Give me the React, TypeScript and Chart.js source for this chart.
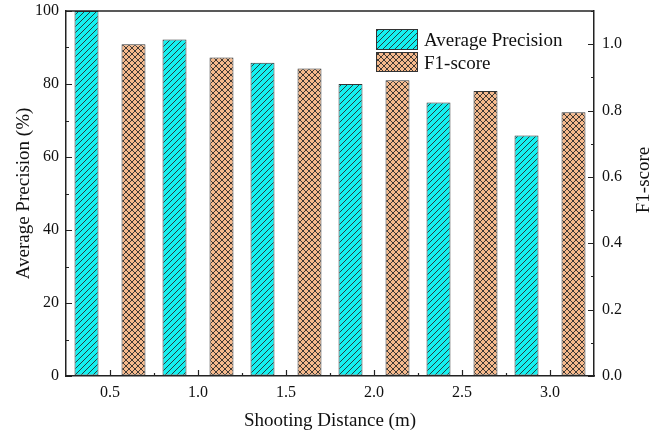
import React, { useEffect, useRef } from 'react';
import { Chart, registerables } from 'chart.js';

Chart.register(...registerables);

const distances = ['0.5', '1.0', '1.5', '2.0', '2.5', '3.0'];
const averagePrecision = [100, 92.2, 85.8, 80.0, 74.9, 65.9];
const f1Score = [1.0, 0.96, 0.927, 0.891, 0.859, 0.795];
const apTicks = [0, 20, 40, 60, 80, 100];
const f1Ticks = [0, 0.2, 0.4, 0.6, 0.8, 1.0];
const seriesNames = ['Average Precision', 'F1-score'];
const xTitle = 'Shooting Distance (m)';
const yTitle = 'Average Precision (%)';
const y1Title = 'F1-score';

const FONT = '"Liberation Serif", "Times New Roman", serif';
const AXIS = '#222222';
const CYAN = '#14F0F0';
const PEACH = '#F5B98C';

function makePattern(bg: string, cross: boolean): CanvasPattern | string {
  const s = 6;
  const c = document.createElement('canvas');
  c.width = s;
  c.height = s;
  const g = c.getContext('2d');
  if (!g) return bg;
  g.fillStyle = bg;
  g.fillRect(0, 0, s, s);
  g.strokeStyle = '#2a2a2a';
  g.lineWidth = 0.9;
  g.beginPath();
  for (const o of [-s, 0, s]) {
    g.moveTo(o, s);
    g.lineTo(o + s, 0);
  }
  if (cross) {
    for (const o of [-s, 0, s]) {
      g.moveTo(o, 0);
      g.lineTo(o + s, s);
    }
  }
  g.stroke();
  return g.createPattern(c, 'repeat') || bg;
}

export default function App() {
  const ref = useRef<HTMLCanvasElement | null>(null);

  useEffect(() => {
    document.body.style.margin = '0';
    const canvas = ref.current;
    if (!canvas) return;
    const apFill = makePattern(CYAN, false);
    const f1Fill = makePattern(PEACH, true);

    const decorPlugin = {
      id: 'decor',
      afterDraw(chart: any) {
        const { ctx, chartArea: a, scales } = chart;
        const x = scales.x;
        const y = scales.y;
        const y1 = scales.y1;
        ctx.save();
        // top frame line
        ctx.strokeStyle = AXIS;
        ctx.lineWidth = 1.5;
        ctx.beginPath();
        ctx.moveTo(a.left, a.top);
        ctx.lineTo(a.right, a.top);
        ctx.stroke();

        ctx.lineWidth = 1.2;
        const MAJ = 6;
        const MIN = 3;
        ctx.beginPath();
        // left axis ticks (inward)
        apTicks.forEach((v, i) => {
          const py = Math.round(y.getPixelForValue(v)) + 0.5;
          ctx.moveTo(a.left, py);
          ctx.lineTo(a.left + MAJ, py);
          if (i < apTicks.length - 1) {
            const pm = Math.round(y.getPixelForValue((v + apTicks[i + 1]) / 2)) + 0.5;
            ctx.moveTo(a.left, pm);
            ctx.lineTo(a.left + MIN, pm);
          }
        });
        // right axis ticks (inward)
        f1Ticks.forEach((v, i) => {
          const py = Math.round(y1.getPixelForValue(v)) + 0.5;
          ctx.moveTo(a.right, py);
          ctx.lineTo(a.right - MAJ, py);
          const next = i < f1Ticks.length - 1 ? f1Ticks[i + 1] : v + (v - f1Ticks[i - 1]);
          const pm = Math.round(y1.getPixelForValue((v + next) / 2)) + 0.5;
          ctx.moveTo(a.right, pm);
          ctx.lineTo(a.right - MIN, pm);
        });
        // bottom axis ticks (inward)
        distances.forEach((_, i) => {
          const px = Math.round(x.getPixelForValue(i)) + 0.5;
          ctx.moveTo(px, a.bottom);
          ctx.lineTo(px, a.bottom - MAJ);
          if (i < distances.length - 1) {
            const pm = Math.round(x.getPixelForValue(i + 0.5)) + 0.5;
            ctx.moveTo(pm, a.bottom);
            ctx.lineTo(pm, a.bottom - MIN);
          }
        });
        ctx.stroke();

        // right axis title, reading bottom-to-top
        ctx.fillStyle = '#111';
        ctx.font = `19px ${FONT}`;
        ctx.textAlign = 'center';
        ctx.textBaseline = 'middle';
        ctx.save();
        ctx.translate(644, 180);
        ctx.rotate(-Math.PI / 2);
        ctx.fillText(y1Title, 0, 0);
        ctx.restore();

        // legend
        const fills = [apFill, f1Fill];
        const boxes = [
          { x: 376, y: 29, w: 42, h: 21 },
          { x: 376, y: 52, w: 42, h: 20 },
        ];
        ctx.textAlign = 'left';
        ctx.textBaseline = 'alphabetic';
        seriesNames.forEach((name, i) => {
          const b = boxes[i];
          ctx.fillStyle = fills[i];
          ctx.fillRect(b.x, b.y, b.w, b.h);
          ctx.strokeStyle = '#333';
          ctx.lineWidth = 1;
          ctx.strokeRect(b.x + 0.5, b.y + 0.5, b.w - 1, b.h - 1);
          ctx.fillStyle = '#111';
          ctx.fillText(name, 424, i === 0 ? 46 : 69);
        });
        ctx.restore();
      },
    };

    const chart = new Chart(canvas, {
      type: 'bar',
      data: {
        labels: distances,
        datasets: [
          {
            label: seriesNames[0],
            data: averagePrecision,
            yAxisID: 'y',
            backgroundColor: apFill as any,
            borderColor: '#333',
            borderWidth: 1,
            borderSkipped: false,
            categoryPercentage: 1.068,
            barPercentage: 0.51,
          },
          {
            label: seriesNames[1],
            data: f1Score,
            yAxisID: 'y1',
            backgroundColor: f1Fill as any,
            borderColor: '#333',
            borderWidth: 1,
            borderSkipped: false,
            categoryPercentage: 1.068,
            barPercentage: 0.51,
          },
        ],
      },
      options: {
        responsive: false,
        animation: false,
        layout: { padding: { top: 11, left: 0, right: 0, bottom: 0 } },
        plugins: {
          legend: { display: false },
          tooltip: { enabled: false },
        },
        scales: {
          x: {
            offset: true,
            grid: { display: true, drawOnChartArea: false, drawTicks: false },
            border: { display: true, color: AXIS, width: 1.5 },
            ticks: { color: '#111', font: { family: FONT, size: 16 }, padding: 7, maxRotation: 0 },
            title: {
              display: true,
              text: xTitle,
              color: '#111',
              font: { family: FONT, size: 19 },
              padding: { top: 0, bottom: 0 },
            },
            afterFit: (s: any) => {
              s.height = 56;
              s.paddingLeft = 0;
              s.paddingRight = 0;
            },
          },
          y: {
            position: 'left',
            min: 0,
            max: 100,
            grid: { display: true, drawOnChartArea: false, drawTicks: false },
            border: { display: true, color: AXIS, width: 1.5 },
            ticks: {
              stepSize: 20,
              color: '#111',
              font: { family: FONT, size: 16 },
              padding: 7,
            },
            title: {
              display: true,
              text: yTitle,
              color: '#111',
              font: { family: FONT, size: 19 },
              padding: { top: 13, bottom: 0 },
            },
            afterFit: (s: any) => {
              s.width = 66;
              s.paddingTop = 0;
              s.paddingBottom = 0;
            },
          },
          y1: {
            position: 'right',
            min: 0,
            max: 1.1,
            grid: { display: true, drawOnChartArea: false, drawTicks: false },
            border: { display: true, color: AXIS, width: 1.5 },
            ticks: {
              stepSize: 0.2,
              includeBounds: false,
              color: '#111',
              font: { family: FONT, size: 16 },
              padding: 8,
              callback: (v: any) => Number(v).toFixed(1),
            },
            afterFit: (s: any) => {
              s.width = 65;
              s.paddingTop = 0;
              s.paddingBottom = 0;
            },
          },
        },
      },
      plugins: [decorPlugin],
    } as any);

    return () => {
      chart.destroy();
    };
  }, []);

  return (
    <div style={{ width: 659, height: 432, background: '#fff' }}>
      <canvas ref={ref} width={659} height={432} style={{ display: 'block' }} />
    </div>
  );
}
